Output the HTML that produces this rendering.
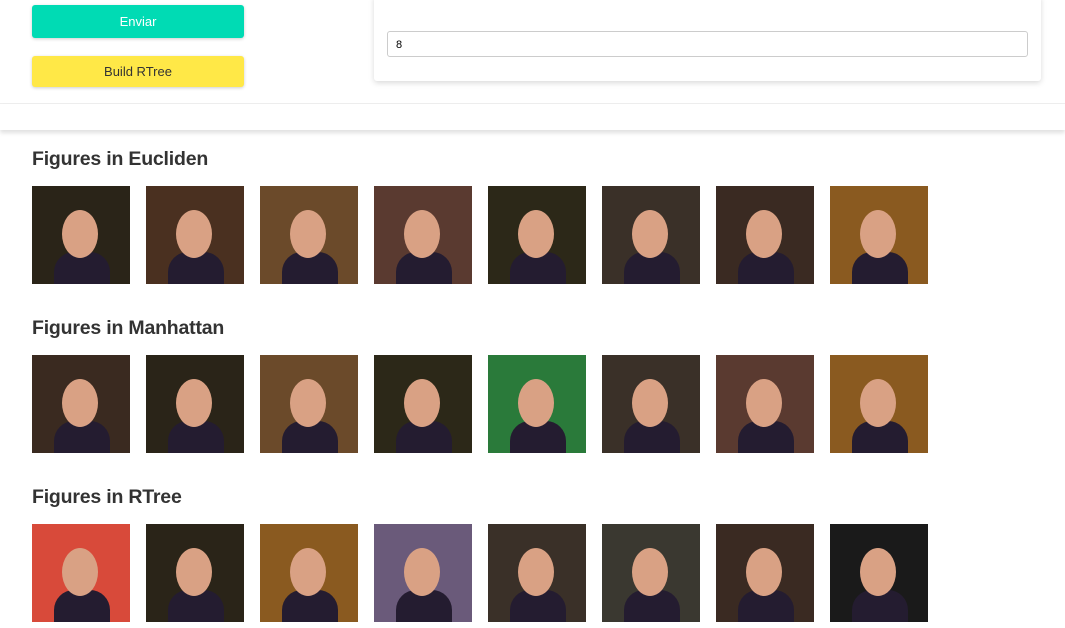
<!DOCTYPE html>
<html><head><meta charset="utf-8"><style>
body{margin:0;width:1065px;height:628px;overflow:hidden;background:#fff;font-family:"Liberation Sans",sans-serif;position:relative}
.btn{position:absolute;left:32px;width:212px;border-radius:3px;font-size:13px;text-align:center;box-shadow:0 1px 3px rgba(0,0,0,.2)}
.card{position:absolute;left:374px;top:-5px;width:667px;height:86px;background:#fff;box-shadow:0 2px 6px rgba(0,0,0,.15);border-radius:3px}
.inp{position:absolute;left:13px;top:36px;height:26px;border:1px solid #ccc;border-radius:3px;font-size:11px;line-height:26px;padding-left:8px;box-sizing:border-box;width:641px}
h2{position:absolute;left:32px;margin:0;font-size:19.5px;font-weight:bold;color:#333;letter-spacing:-0.2px}
.ph{position:absolute;width:98px;height:98px;overflow:hidden}
.ph i{position:absolute;left:30px;top:24px;width:36px;height:48px;border-radius:50%;background:#d9a184}
.ph b{position:absolute;left:22px;top:66px;width:56px;height:40px;border-radius:20px 20px 0 0;background:#241c30}
</style></head><body>
<div class="btn" style="top:5px;height:33px;line-height:33px;background:#00dbb4;color:#fff">Enviar</div>
<div class="btn" style="top:56px;height:31px;line-height:31px;background:#ffe847;color:#333">Build RTree</div>
<div class="card"><div class="inp">8</div></div>
<div style="position:absolute;left:0;top:103px;width:1065px;height:1px;background:#eee"></div>
<div style="position:absolute;left:0;top:104px;width:1065px;height:26px;background:#fff;box-shadow:0 3px 4px rgba(0,0,0,.12)"></div>
<h2 style="top:148px">Figures in Eucliden</h2>
<h2 style="top:317px">Figures in Manhattan</h2>
<h2 style="top:486px">Figures in RTree</h2>
<div id="g"></div>
<script>
const rows=[186,355,524];
const bgs=[["#2a2418","#4a3020","#6b4a2a","#5a3a30","#2c2818","#3a3028","#3a2a22","#8a5a20"],
["#3a2a20","#2a2418","#6b4a2a","#2c2818","#2a7a3a","#3a3028","#5a3a30","#8a5a20"],
["#d84a3a","#2a2418","#8a5a20","#6a5a7a","#3a3028","#3a3830","#3a2a22","#1a1a1a"]];
const g=document.getElementById('g');
rows.forEach((y,r)=>{for(let c=0;c<8;c++){const d=document.createElement('div');d.className='ph';d.style.left=(32+114*c)+'px';d.style.top=y+'px';d.style.background=bgs[r][c];


d.innerHTML='<b></b><i></i>';g.appendChild(d);}});
</script>
</body></html>
